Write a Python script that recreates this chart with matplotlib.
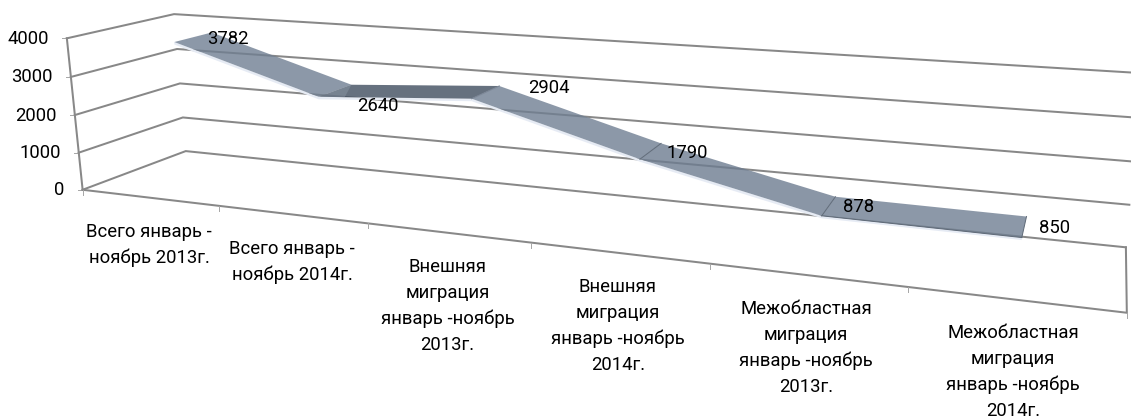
"""3D ribbon line chart of migration figures, drawn through a fitted perspective projection."""

import numpy as np
import matplotlib
matplotlib.use("Agg")
import matplotlib.pyplot as plt
from matplotlib.patches import Polygon

plt.rcParams["font.family"] = ["Roboto", "DejaVu Sans"]

categories = ["Всего январь -\nноябрь 2013г.",
              "Всего январь -\nноябрь 2014г.",
              "Внешняя\nмиграция\nянварь -ноябрь\n2013г.",
              "Внешняя\nмиграция\nянварь -ноябрь\n2014г.",
              "Межобластная\nмиграция\nянварь -ноябрь\n2013г.",
              "Межобластная\nмиграция\nянварь -ноябрь\n2014г."]
values = [3782, 2640, 2904, 1790, 878, 850]
y_ticks = [0, 1000, 2000, 3000, 4000]
y_max = 4000

# calibration of the box corners: (category frac, depth, height frac) -> pixel
calib_src = [(0, 0, 0), (0, 0, 1), (0, 1, 0), (0, 1, 1), (1, 1, 0), (1, 0, 0), (1, 1, 1),
             (1/6, 0, 0), (2/6, 0, 0), (3/6, 0, 0), (4/6, 0, 0), (5/6, 0, 0),
             (0, 0, .25), (0, 0, .5), (0, 0, .75), (0, 1, .25), (0, 1, .5), (0, 1, .75)]
calib_dst = [(82, 189), (66, 38), (186, 151), (174, 14), (1126, 247), (1127, 312), (1140, 73.5),
             (220, 207), (368, 225), (531, 243), (710, 263), (908, 287),
             (79, 152), (76, 115), (71, 77), (182, 117), (180, 84), (177.5, 49)]

rows, rhs = [], []
for (a, b, c), (px, py) in zip(calib_src, calib_dst):
    rows.append([a, b, c, 1, 0, 0, 0, 0, -px*a, -px*b, -px*c])
    rhs.append(px)
    rows.append([0, 0, 0, 0, a, b, c, 1, -py*a, -py*b, -py*c])
    rhs.append(py)
cam = np.append(np.linalg.lstsq(np.array(rows), np.array(rhs), rcond=None)[0], 1.0).reshape(3, 4)


def proj(u, d, h):
    x, y, w = cam @ np.array([u, d, h, 1.0])
    return x / w, y / w


fig = plt.figure(figsize=(11.31, 4.18), dpi=100)
ax = fig.add_axes([0, 0, 1, 1])
ax.set_xlim(0, 1131)
ax.set_ylim(418, 0)
ax.axis("off")

grid_color = "#888888"
grid_lw = 1.45
txt_size = 13.3


def seg(pts, **kw):
    xs, ys = zip(*pts)
    ax.plot(xs, ys, color=kw.get("color", grid_color), lw=kw.get("lw", grid_lw),
            solid_joinstyle="miter", zorder=kw.get("zorder", 1))


for tick in y_ticks:
    h = tick / y_max
    seg([proj(0, 0, h), proj(0, 1, h), proj(1, 1, h)])
    x0, y0 = proj(0, 0, h)
    seg([(x0 - 5, y0), (x0, y0)], lw=0.7, color="#a6a6a6")
    ax.text(x0 - 18, y0 + 0.5, str(tick), ha="right", va="center", fontsize=txt_size, color="black")

seg([proj(0, 0, 0), proj(0, 0, 1)])
seg([proj(0, 0, 0), proj(1, 0, 0), proj(1, 1, 0)])
for k in range(7):
    x0, y0 = proj(k / 6, 0, 0)
    seg([(x0, y0), (x0, y0 + 5)], lw=0.7, color="#a6a6a6")

# ribbon
d_front, d_back = 0.35, 0.72
front = [proj((i + .5) / 6, d_front, v / y_max) for i, v in enumerate(values)]
back = [proj((i + .5) / 6, d_back, v / y_max) for i, v in enumerate(values)]

slope_colors = ["#707f92", "#404d5f", "#707f92", "#6d7c90", "#707f92", "#697586"]
shadow = [(x, y + 2.5) for x, y in front]
ax.add_patch(Polygon(front + shadow[::-1], closed=True, fc="#e6ebf4", ec="none", zorder=2))
for i in range(5):
    quad = [front[i], back[i], back[i + 1], front[i + 1]]
    ax.add_patch(Polygon(quad, closed=True, fc=slope_colors[i], ec="none", alpha=0.8, zorder=3))

# lighter wedge where the flat stretch starts
wedge_end = (front[1][0] + 0.17 * (front[2][0] - front[1][0]), front[1][1] + 0.17 * (front[2][1] - front[1][1]))
ax.add_patch(Polygon([front[1], back[1], wedge_end], closed=True, fc="#8d99a8", ec="none", alpha=0.45, zorder=4))
seg([front[2], back[2]], color="#7b8696", lw=0.8, zorder=4)

for i in [3, 4, 5]:
    seg([front[i], back[i]], color="#5f6a78", lw=0.7, zorder=4)
seg(front[4:], color="#5f6a78", lw=0.7, zorder=4)

# labels
value_xy = [(227.5, 39), (378, 106), (549, 88), (687, 153), (859, 207), (1055, 228)]
for v, (x, y) in zip(values, value_xy):
    ax.text(x, y, str(v), ha="center", va="center", fontsize=txt_size, color="black", zorder=5)

label_xy = [(149, 245), (292, 262), (447.5, 306), (618, 326), (806, 348), (1013, 372)]
for cat, (x, y) in zip(categories, label_xy):
    ax.text(x, y, cat, ha="center", va="center", fontsize=txt_size, color="black",
            linespacing=1.54, multialignment="center")

fig.savefig("out.png", dpi=100)
